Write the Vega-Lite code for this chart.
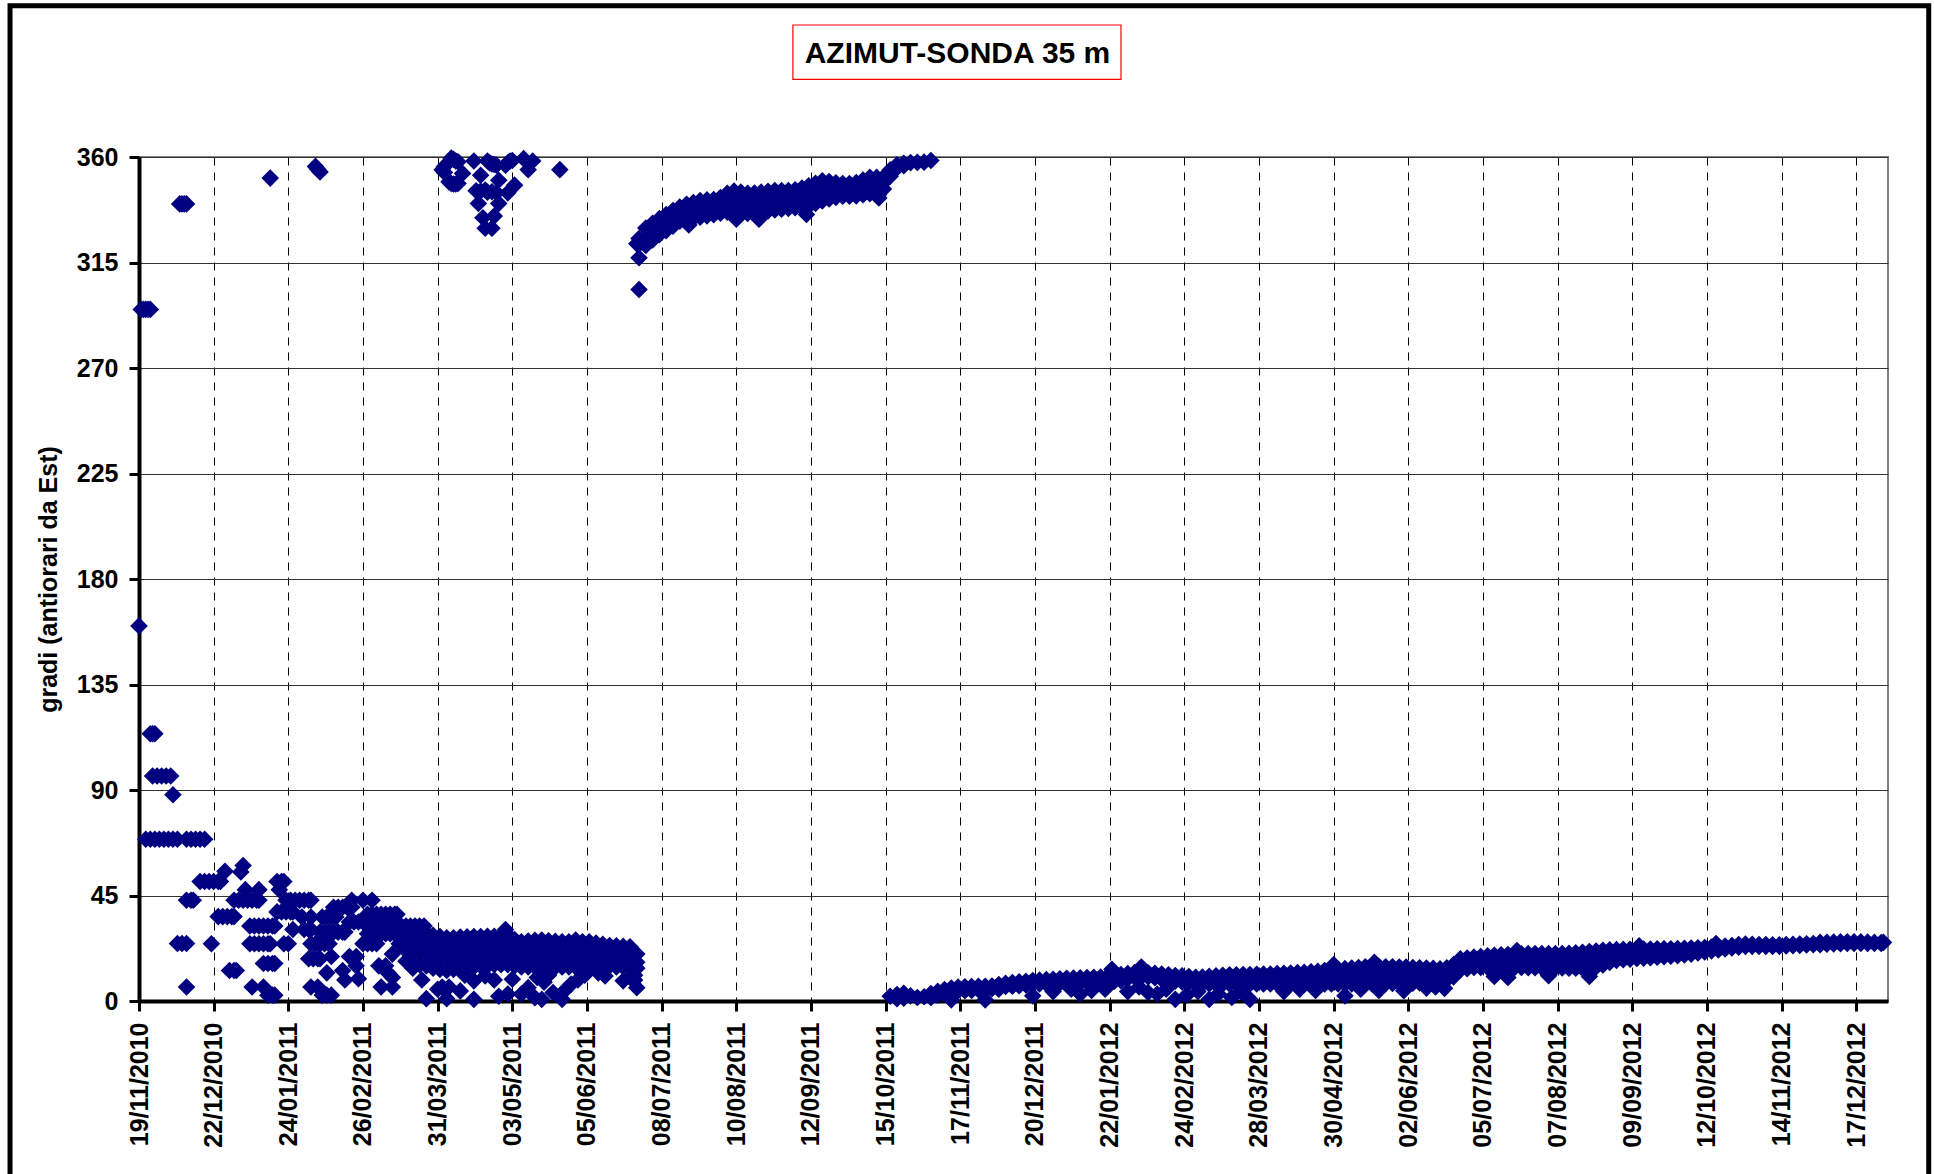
{
"$schema": "https://vega.github.io/schema/vega-lite/v6.json",
"width": 1749, "height": 844,
"autosize": {"type": "none"},
"padding": {"left": 139, "top": 157, "right": 46, "bottom": 173},
"background": "white",
"config": {
  "font": "Liberation Sans",
  "view": {"stroke": "#808080", "strokeWidth": 2},
  "axis": {"labelFont": "Liberation Sans", "titleFont": "Liberation Sans"}
},
"title": {"text": "AZIMUT-SONDA 35 m", "font": "Liberation Sans", "fontSize": 30, "fontWeight": "bold", "color": "black", "anchor": "middle", "frame": "group", "dx": -56, "offset": -66},
"layer": [
{
  "data": {"values": [{"k": 1}]},
  "mark": {"type": "rect", "fill": "white", "fillOpacity": 0, "stroke": "black", "strokeWidth": 5},
  "encoding": {
    "x": {"datum": {"year": 2010, "month": 9, "date": 23, "utc": true}, "type": "temporal"},
    "x2": {"datum": {"year": 2013, "month": 1, "date": 18, "utc": true}},
    "y": {"datum": 424.5, "type": "quantitative"},
    "y2": {"datum": -120}
  }
},
{
  "data": {"values": [{"k": 1}]},
  "mark": {"type": "rect", "fill": "white", "fillOpacity": 0, "stroke": "#ff0000", "strokeWidth": 1.2},
  "encoding": {
    "x": {"datum": {"year": 2011, "month": 9, "date": 4, "utc": true}, "type": "temporal"},
    "x2": {"datum": {"year": 2012, "month": 1, "date": 27, "utc": true}},
    "y": {"datum": 416.3, "type": "quantitative"},
    "y2": {"datum": 393.1}
  }
},
{
  "data": {"values": [
{"date":"2010-11-19","az":160},
{"date":"2010-11-20","az":295},{"date":"2010-11-21","az":295},{"date":"2010-11-22","az":295},{"date":"2010-11-23","az":295},{"date":"2010-11-24","az":295},
{"date":"2010-11-24","az":114},{"date":"2010-11-25","az":114},{"date":"2010-11-26","az":114},
{"date":"2010-11-25","az":96},{"date":"2010-11-27","az":96},{"date":"2010-11-29","az":96},{"date":"2010-12-01","az":96},{"date":"2010-12-03","az":96},
{"date":"2010-12-04","az":88},
{"date":"2010-11-22","az":69},{"date":"2010-11-24","az":69},{"date":"2010-11-26","az":69},{"date":"2010-11-28","az":69},{"date":"2010-11-30","az":69},{"date":"2010-12-02","az":69},{"date":"2010-12-04","az":69},{"date":"2010-12-06","az":69},{"date":"2010-12-10","az":69},{"date":"2010-12-12","az":69},{"date":"2010-12-14","az":69},{"date":"2010-12-16","az":69},{"date":"2010-12-18","az":69},
{"date":"2010-12-07","az":340},{"date":"2010-12-08","az":340},{"date":"2010-12-09","az":340},{"date":"2010-12-10","az":340},
{"date":"2010-12-06","az":24.5},{"date":"2010-12-08","az":24.5},{"date":"2010-12-10","az":24.5},
{"date":"2010-12-10","az":6},
{"date":"2010-12-10","az":43},{"date":"2010-12-12","az":43},{"date":"2010-12-13","az":43},
{"date":"2010-12-16","az":51},{"date":"2010-12-18","az":51},{"date":"2010-12-20","az":51},{"date":"2010-12-22","az":51},{"date":"2010-12-24","az":51},{"date":"2010-12-25","az":51},
{"date":"2010-12-27","az":55.3},{"date":"2011-01-04","az":57.8},{"date":"2011-01-03","az":55},
{"date":"2010-12-21","az":24.4},
{"date":"2010-12-31","az":43},{"date":"2011-01-02","az":43},{"date":"2011-01-04","az":43},{"date":"2011-01-06","az":43},{"date":"2011-01-08","az":43},{"date":"2011-01-10","az":43},{"date":"2011-01-11","az":43},
{"date":"2010-12-24","az":36},{"date":"2010-12-26","az":36},{"date":"2010-12-28","az":36},{"date":"2010-12-30","az":36},{"date":"2010-12-31","az":36},
{"date":"2010-12-29","az":13},{"date":"2010-12-31","az":13},{"date":"2011-01-01","az":13},
{"date":"2011-01-05","az":47.5},{"date":"2011-01-11","az":47.5},
{"date":"2011-01-07","az":24.4},{"date":"2011-01-09","az":24.4},{"date":"2011-01-11","az":24.4},{"date":"2011-01-13","az":24.4},{"date":"2011-01-15","az":24.4},{"date":"2011-01-16","az":24.4},
{"date":"2011-01-07","az":32},{"date":"2011-01-09","az":32},{"date":"2011-01-11","az":32},{"date":"2011-01-13","az":32},{"date":"2011-01-15","az":32},{"date":"2011-01-17","az":32},{"date":"2011-01-18","az":32},
{"date":"2011-01-13","az":16},{"date":"2011-01-15","az":16},{"date":"2011-01-17","az":16},{"date":"2011-01-18","az":16},
{"date":"2011-01-08","az":6},{"date":"2011-01-13","az":6},
{"date":"2011-01-15","az":2.5},{"date":"2011-01-17","az":2.5},{"date":"2011-01-18","az":2.5},
{"date":"2011-01-16","az":351},
{"date":"2011-01-19","az":51},{"date":"2011-01-21","az":51},{"date":"2011-01-22","az":51},{"date":"2011-01-20","az":47.5},
{"date":"2011-01-23","az":43},{"date":"2011-01-25","az":43},{"date":"2011-01-27","az":43},{"date":"2011-01-29","az":43},{"date":"2011-01-31","az":43},{"date":"2011-02-02","az":43},{"date":"2011-02-03","az":43},
{"date":"2011-01-19","az":38},{"date":"2011-01-21","az":38},{"date":"2011-01-23","az":38},{"date":"2011-01-25","az":38},{"date":"2011-01-26","az":38},
{"date":"2011-01-22","az":24.4},{"date":"2011-01-24","az":24.4},
{"date":"2011-01-26","az":30.5},{"date":"2011-01-31","az":30.5},{"date":"2011-02-02","az":30.5},{"date":"2011-02-03","az":30.5},
{"date":"2011-01-30","az":35.8},{"date":"2011-02-03","az":35.8},{"date":"2011-02-08","az":35.8},{"date":"2011-02-10","az":35.8},{"date":"2011-02-12","az":35.8},{"date":"2011-02-14","az":35.8},
{"date":"2011-02-05","az":356},{"date":"2011-02-06","az":354.8},{"date":"2011-02-07","az":353.6},
{"date":"2011-02-07","az":29.4},{"date":"2011-02-09","az":29.4},{"date":"2011-02-11","az":29.4},{"date":"2011-02-13","az":29.4},{"date":"2011-02-15","az":29.4},{"date":"2011-02-17","az":29.4},{"date":"2011-02-18","az":29.4},
{"date":"2011-02-13","az":40},{"date":"2011-02-15","az":40},{"date":"2011-02-17","az":40},{"date":"2011-02-19","az":40},{"date":"2011-02-21","az":40},
{"date":"2011-02-21","az":43},{"date":"2011-02-26","az":43},{"date":"2011-03-02","az":43},
{"date":"2011-02-03","az":24.4},{"date":"2011-02-05","az":24.4},{"date":"2011-02-07","az":24.4},{"date":"2011-02-09","az":24.4},{"date":"2011-02-11","az":24.4},
{"date":"2011-02-02","az":18},{"date":"2011-02-04","az":18},{"date":"2011-02-06","az":18},{"date":"2011-02-07","az":18},
{"date":"2011-02-10","az":12},{"date":"2011-02-12","az":19},
{"date":"2011-02-03","az":6},{"date":"2011-02-06","az":6},
{"date":"2011-02-08","az":2.5},{"date":"2011-02-10","az":2.5},{"date":"2011-02-12","az":2.5},
{"date":"2011-02-17","az":13},{"date":"2011-02-18","az":9},{"date":"2011-02-20","az":19},{"date":"2011-02-23","az":19},{"date":"2011-02-24","az":9.5},{"date":"2011-02-23","az":15},
{"date":"2011-02-28","az":37},{"date":"2011-03-02","az":37},{"date":"2011-03-04","az":37},{"date":"2011-03-06","az":37},{"date":"2011-03-08","az":37},{"date":"2011-03-10","az":37},{"date":"2011-03-12","az":37},{"date":"2011-03-13","az":37},
{"date":"2011-02-20","az":33.7},{"date":"2011-02-22","az":33.7},{"date":"2011-02-24","az":33.7},{"date":"2011-02-26","az":33.7},{"date":"2011-02-28","az":33.7},{"date":"2011-03-02","az":33.7},{"date":"2011-03-04","az":33.7},{"date":"2011-03-06","az":33.7},{"date":"2011-03-08","az":33.7},{"date":"2011-03-09","az":33.7},
{"date":"2011-03-11","az":32},{"date":"2011-03-13","az":32},{"date":"2011-03-15","az":32},{"date":"2011-03-17","az":32},{"date":"2011-03-19","az":32},{"date":"2011-03-21","az":32},{"date":"2011-03-23","az":32},{"date":"2011-03-25","az":32},
{"date":"2011-02-28","az":28.7},{"date":"2011-03-02","az":28.7},{"date":"2011-03-04","az":28.7},{"date":"2011-03-06","az":28.7},{"date":"2011-03-08","az":28.7},{"date":"2011-03-10","az":28.7},{"date":"2011-03-12","az":28.7},{"date":"2011-03-14","az":28.7},{"date":"2011-03-16","az":28.7},
{"date":"2011-02-26","az":24.4},{"date":"2011-02-28","az":24.4},{"date":"2011-03-02","az":24.4},{"date":"2011-03-04","az":24.4},{"date":"2011-03-14","az":24.4},
{"date":"2011-03-11","az":20},{"date":"2011-03-11","az":10},{"date":"2011-03-05","az":15},{"date":"2011-03-08","az":15},{"date":"2011-03-09","az":12},{"date":"2011-03-06","az":6},{"date":"2011-03-11","az":6},
{"date":"2011-03-17","az":30},{"date":"2011-03-17","az":26},{"date":"2011-03-17","az":21.5},{"date":"2011-03-17","az":17},
{"date":"2011-03-20","az":30},{"date":"2011-03-20","az":25.5},{"date":"2011-03-20","az":21},{"date":"2011-03-20","az":16},{"date":"2011-03-20","az":14},
{"date":"2011-03-23","az":29.5},{"date":"2011-03-23","az":25},{"date":"2011-03-23","az":20.5},{"date":"2011-03-23","az":15.5},
{"date":"2011-03-26","az":29},{"date":"2011-03-26","az":24.5},{"date":"2011-03-26","az":20},{"date":"2011-03-26","az":15},{"date":"2011-03-26","az":1},
{"date":"2011-03-29","az":28},{"date":"2011-03-29","az":23.5},{"date":"2011-03-29","az":19},{"date":"2011-03-29","az":14},
{"date":"2011-04-01","az":27.5},{"date":"2011-04-01","az":23},{"date":"2011-04-01","az":18.5},{"date":"2011-04-01","az":13.5},
{"date":"2011-04-04","az":27},{"date":"2011-04-04","az":22.5},{"date":"2011-04-04","az":18},{"date":"2011-04-04","az":13},{"date":"2011-04-04","az":1},
{"date":"2011-04-07","az":27},{"date":"2011-04-07","az":22.5},{"date":"2011-04-07","az":18},{"date":"2011-04-07","az":13.5},
{"date":"2011-04-10","az":27.3},{"date":"2011-04-10","az":23},{"date":"2011-04-10","az":18.5},{"date":"2011-04-10","az":14},{"date":"2011-04-10","az":4.3},
{"date":"2011-04-13","az":27.4},{"date":"2011-04-13","az":23},{"date":"2011-04-13","az":18.5},{"date":"2011-04-13","az":14},
{"date":"2011-04-16","az":27.5},{"date":"2011-04-16","az":23},{"date":"2011-04-16","az":18.5},{"date":"2011-04-16","az":14.5},{"date":"2011-04-16","az":8.6},{"date":"2011-04-16","az":0.7},
{"date":"2011-04-19","az":27.5},{"date":"2011-04-19","az":23},{"date":"2011-04-19","az":19},{"date":"2011-04-19","az":15},
{"date":"2011-04-22","az":27.6},{"date":"2011-04-22","az":23},{"date":"2011-04-22","az":19},{"date":"2011-04-22","az":15},
{"date":"2011-04-25","az":27.6},{"date":"2011-04-25","az":23.5},{"date":"2011-04-25","az":19.5},{"date":"2011-04-25","az":15.5},{"date":"2011-04-25","az":9},
{"date":"2011-04-28","az":27.7},{"date":"2011-04-28","az":23.5},{"date":"2011-04-28","az":19.5},{"date":"2011-04-28","az":15.5},
{"date":"2011-05-01","az":28.2},{"date":"2011-05-01","az":24},{"date":"2011-05-01","az":19.5},{"date":"2011-05-01","az":15.5},{"date":"2011-05-01","az":3},
{"date":"2011-05-04","az":26.2},{"date":"2011-05-04","az":22},{"date":"2011-05-04","az":18},{"date":"2011-05-04","az":15},
{"date":"2011-05-07","az":25.3},{"date":"2011-05-07","az":21},{"date":"2011-05-07","az":17.5},{"date":"2011-05-07","az":14.5},{"date":"2011-05-07","az":3},
{"date":"2011-05-10","az":25.6},{"date":"2011-05-10","az":21.5},{"date":"2011-05-10","az":17.5},{"date":"2011-05-10","az":14.5},{"date":"2011-05-10","az":5.7},
{"date":"2011-05-13","az":25.9},{"date":"2011-05-13","az":21.5},{"date":"2011-05-13","az":17.5},{"date":"2011-05-13","az":14.5},{"date":"2011-05-13","az":1.4},
{"date":"2011-05-16","az":26},{"date":"2011-05-16","az":21.5},{"date":"2011-05-16","az":17.5},{"date":"2011-05-16","az":14.5},{"date":"2011-05-16","az":0.7},
{"date":"2011-05-19","az":25.7},{"date":"2011-05-19","az":21.5},{"date":"2011-05-19","az":17.5},{"date":"2011-05-19","az":14.5},{"date":"2011-05-19","az":11},
{"date":"2011-05-22","az":25.5},{"date":"2011-05-22","az":21.5},{"date":"2011-05-22","az":17.5},{"date":"2011-05-22","az":14.5},
{"date":"2011-05-25","az":25.3},{"date":"2011-05-25","az":21},{"date":"2011-05-25","az":17},{"date":"2011-05-25","az":14.5},{"date":"2011-05-25","az":0.7},
{"date":"2011-05-28","az":25.3},{"date":"2011-05-28","az":21},{"date":"2011-05-28","az":17},{"date":"2011-05-28","az":14.5},
{"date":"2011-05-31","az":26},{"date":"2011-05-31","az":21.5},{"date":"2011-05-31","az":17.5},{"date":"2011-05-31","az":14.5},
{"date":"2011-06-03","az":25.3},{"date":"2011-06-03","az":21},{"date":"2011-06-03","az":17.5},{"date":"2011-06-03","az":15},
{"date":"2011-06-06","az":25.3},{"date":"2011-06-06","az":21},{"date":"2011-06-06","az":17.5},{"date":"2011-06-06","az":15.5},
{"date":"2011-06-09","az":24.7},{"date":"2011-06-09","az":20.5},{"date":"2011-06-09","az":17},{"date":"2011-06-09","az":15.5},
{"date":"2011-06-12","az":24.2},{"date":"2011-06-12","az":20.5},{"date":"2011-06-12","az":17},{"date":"2011-06-12","az":15.5},
{"date":"2011-06-15","az":23.7},{"date":"2011-06-15","az":20},{"date":"2011-06-15","az":17},{"date":"2011-06-15","az":15},
{"date":"2011-06-18","az":23.5},{"date":"2011-06-18","az":20},{"date":"2011-06-18","az":17},{"date":"2011-06-18","az":14.5},
{"date":"2011-06-21","az":23.3},{"date":"2011-06-21","az":19.5},{"date":"2011-06-21","az":16.5},{"date":"2011-06-21","az":14.5},{"date":"2011-06-21","az":8.6},
{"date":"2011-06-24","az":23.1},{"date":"2011-06-24","az":19.5},{"date":"2011-06-24","az":16.5},{"date":"2011-06-24","az":14.5},{"date":"2011-06-24","az":10},
{"date":"2011-06-27","az":20},{"date":"2011-06-27","az":16.5},{"date":"2011-06-27","az":14},{"date":"2011-06-27","az":5.7},
{"date":"2011-03-24","az":9},{"date":"2011-04-02","az":6},{"date":"2011-04-05","az":6},{"date":"2011-04-21","az":10.7},{"date":"2011-04-27","az":2},{"date":"2011-04-30","az":30.5},{"date":"2011-05-03","az":9.3},{"date":"2011-05-17","az":8},{"date":"2011-05-21","az":3.6},{"date":"2011-05-26","az":4.3},{"date":"2011-05-29","az":7.2},{"date":"2011-06-01","az":9},{"date":"2011-06-04","az":11},{"date":"2011-06-10","az":12},{"date":"2011-06-13","az":10.7},{"date":"2011-06-26","az":11},{"date":"2011-06-26","az":9},{"date":"2011-04-12","az":11},{"date":"2011-05-14","az":10},{"date":"2011-03-31","az":5},{"date":"2011-04-03","az":5},
{"date":"2011-04-02","az":354.6},{"date":"2011-04-03","az":353.4},{"date":"2011-04-03","az":356},{"date":"2011-04-06","az":359.5},{"date":"2011-04-07","az":359},{"date":"2011-04-08","az":358.3},{"date":"2011-04-09","az":358},{"date":"2011-04-11","az":353},
{"date":"2011-04-05","az":349.4},{"date":"2011-04-06","az":348.7},{"date":"2011-04-07","az":348.5},{"date":"2011-04-08","az":348.5},{"date":"2011-04-09","az":348.7},
{"date":"2011-04-16","az":358.3},{"date":"2011-04-19","az":352.2},{"date":"2011-04-18","az":340.2},
{"date":"2011-04-17","az":345.6},{"date":"2011-04-19","az":345.5},{"date":"2011-04-21","az":345.9},{"date":"2011-04-22","az":345},{"date":"2011-04-24","az":345.2},{"date":"2011-04-26","az":344.8},
{"date":"2011-04-20","az":334.1},{"date":"2011-04-25","az":334.8},{"date":"2011-04-21","az":329.6},{"date":"2011-04-24","az":329.6},
{"date":"2011-04-27","az":340.2},{"date":"2011-04-27","az":350.1},
{"date":"2011-04-22","az":358.3},{"date":"2011-04-23","az":357.5},{"date":"2011-04-24","az":357},{"date":"2011-04-25","az":356.8},{"date":"2011-04-26","az":356.5},
{"date":"2011-05-01","az":344.7},{"date":"2011-05-04","az":348},
{"date":"2011-04-30","az":356.5},{"date":"2011-05-01","az":357.5},{"date":"2011-05-02","az":358.3},{"date":"2011-05-03","az":358.5},
{"date":"2011-05-08","az":359.3},{"date":"2011-05-12","az":358.3},{"date":"2011-05-10","az":354.6},{"date":"2011-05-24","az":354.6},
{"date":"2011-06-27","az":323},
{"date":"2011-06-28","az":325.2},{"date":"2011-06-28","az":322.8},{"date":"2011-06-28","az":317},{"date":"2011-06-28","az":303.5},
{"date":"2011-07-01","az":329.7},{"date":"2011-07-01","az":325.5},{"date":"2011-07-01","az":322.3},
{"date":"2011-07-04","az":331.7},{"date":"2011-07-04","az":328},{"date":"2011-07-04","az":324.6},
{"date":"2011-07-07","az":333.7},{"date":"2011-07-07","az":330.3},{"date":"2011-07-07","az":326.9},
{"date":"2011-07-10","az":335.5},{"date":"2011-07-10","az":332},{"date":"2011-07-10","az":328.6},
{"date":"2011-07-13","az":337.2},{"date":"2011-07-13","az":333.8},{"date":"2011-07-13","az":330.5},
{"date":"2011-07-16","az":338.7},{"date":"2011-07-16","az":335.5},{"date":"2011-07-16","az":332.6},
{"date":"2011-07-19","az":339.8},{"date":"2011-07-19","az":336.5},{"date":"2011-07-19","az":333.6},
{"date":"2011-07-20","az":331},
{"date":"2011-07-22","az":340.6},{"date":"2011-07-22","az":337.2},{"date":"2011-07-22","az":333.9},
{"date":"2011-07-25","az":341.4},{"date":"2011-07-25","az":337.8},{"date":"2011-07-25","az":334.3},
{"date":"2011-07-28","az":341.7},{"date":"2011-07-28","az":338.3},{"date":"2011-07-28","az":334.9},
{"date":"2011-07-31","az":341.9},{"date":"2011-07-31","az":338.6},{"date":"2011-07-31","az":335.4},
{"date":"2011-08-03","az":342.7},{"date":"2011-08-03","az":339.3},{"date":"2011-08-03","az":336},
{"date":"2011-08-06","az":344.5},{"date":"2011-08-06","az":340.8},{"date":"2011-08-06","az":336.5},
{"date":"2011-08-09","az":345.5},{"date":"2011-08-09","az":341.5},{"date":"2011-08-09","az":336.7},
{"date":"2011-08-10","az":333.5},
{"date":"2011-08-12","az":345},{"date":"2011-08-12","az":341},{"date":"2011-08-12","az":336.3},
{"date":"2011-08-15","az":344.5},{"date":"2011-08-15","az":340.5},{"date":"2011-08-15","az":335.9},
{"date":"2011-08-18","az":344.6},{"date":"2011-08-18","az":340.7},{"date":"2011-08-18","az":336.1},
{"date":"2011-08-20","az":333.5},
{"date":"2011-08-21","az":345},{"date":"2011-08-21","az":341},{"date":"2011-08-21","az":336.6},
{"date":"2011-08-24","az":345.4},{"date":"2011-08-24","az":341.3},{"date":"2011-08-24","az":337},
{"date":"2011-08-27","az":345.7},{"date":"2011-08-27","az":341.6},{"date":"2011-08-27","az":337.4},
{"date":"2011-08-30","az":345.7},{"date":"2011-08-30","az":341.8},{"date":"2011-08-30","az":337.7},
{"date":"2011-09-02","az":345.7},{"date":"2011-09-02","az":342},{"date":"2011-09-02","az":338.1},
{"date":"2011-09-05","az":346},{"date":"2011-09-05","az":342.2},{"date":"2011-09-05","az":338.4},
{"date":"2011-09-08","az":346.8},{"date":"2011-09-08","az":342.8},{"date":"2011-09-08","az":338.7},
{"date":"2011-09-10","az":335.5},
{"date":"2011-09-11","az":347.7},{"date":"2011-09-11","az":343.4},{"date":"2011-09-11","az":339},
{"date":"2011-09-14","az":348.8},{"date":"2011-09-14","az":344.5},{"date":"2011-09-14","az":340.2},
{"date":"2011-09-17","az":349.9},{"date":"2011-09-17","az":345.6},{"date":"2011-09-17","az":341.3},
{"date":"2011-09-20","az":349.5},{"date":"2011-09-20","az":345.8},{"date":"2011-09-20","az":342.1},
{"date":"2011-09-23","az":349},{"date":"2011-09-23","az":345.9},{"date":"2011-09-23","az":342.8},
{"date":"2011-09-26","az":348.7},{"date":"2011-09-26","az":346},{"date":"2011-09-26","az":343.3},
{"date":"2011-09-29","az":348.7},{"date":"2011-09-29","az":346},{"date":"2011-09-29","az":343.3},
{"date":"2011-10-02","az":349.1},{"date":"2011-10-02","az":346.2},{"date":"2011-10-02","az":343.4},
{"date":"2011-10-05","az":350.2},{"date":"2011-10-05","az":347},{"date":"2011-10-05","az":343.9},
{"date":"2011-10-08","az":351.3},{"date":"2011-10-08","az":347.6},{"date":"2011-10-08","az":344.3},
{"date":"2011-10-11","az":351.3},{"date":"2011-10-11","az":348},{"date":"2011-10-11","az":345.3},{"date":"2011-10-12","az":342.5},
{"date":"2011-10-14","az":351.3},{"date":"2011-10-14","az":349},{"date":"2011-10-14","az":346.3},
{"date":"2011-10-17","az":354.5},{"date":"2011-10-17","az":351.8},
{"date":"2011-10-20","az":356.7},{"date":"2011-10-20","az":355.3},
{"date":"2011-10-23","az":357.3},{"date":"2011-10-23","az":356.3},
{"date":"2011-10-26","az":357.6},{"date":"2011-10-29","az":357.7},{"date":"2011-11-01","az":357.8},{"date":"2011-11-04","az":358.5},
{"date":"2011-10-17","az":2},
{"date":"2011-10-20","az":2.8},{"date":"2011-10-20","az":1},
{"date":"2011-10-23","az":3.3},{"date":"2011-10-23","az":1.2},
{"date":"2011-10-26","az":2.2},{"date":"2011-10-29","az":1.5},{"date":"2011-11-01","az":1.8},
{"date":"2011-11-04","az":3.2},{"date":"2011-11-04","az":1.5},
{"date":"2011-11-07","az":4.1},{"date":"2011-11-07","az":2.5},
{"date":"2011-11-10","az":4.9},{"date":"2011-11-10","az":3},
{"date":"2011-11-13","az":5.5},{"date":"2011-11-13","az":3.8},{"date":"2011-11-13","az":0.5},
{"date":"2011-11-16","az":5.9},{"date":"2011-11-16","az":4.3},
{"date":"2011-11-19","az":6.1},{"date":"2011-11-19","az":4.4},
{"date":"2011-11-22","az":6.2},{"date":"2011-11-22","az":4.5},
{"date":"2011-11-25","az":6.3},{"date":"2011-11-25","az":4.8},
{"date":"2011-11-28","az":6.3},{"date":"2011-11-28","az":4.5},{"date":"2011-11-28","az":0.5},
{"date":"2011-12-01","az":6.4},{"date":"2011-12-01","az":5.2},
{"date":"2011-12-04","az":7},{"date":"2011-12-04","az":5},
{"date":"2011-12-07","az":7.5},{"date":"2011-12-07","az":6.2},
{"date":"2011-12-10","az":7.9},{"date":"2011-12-10","az":6.3},
{"date":"2011-12-13","az":8.2},{"date":"2011-12-13","az":6.5},
{"date":"2011-12-16","az":8.4},{"date":"2011-12-16","az":6.8},
{"date":"2011-12-19","az":8.7},{"date":"2011-12-19","az":7.3},{"date":"2011-12-19","az":2.2},
{"date":"2011-12-22","az":8.9},{"date":"2011-12-22","az":7.3},
{"date":"2011-12-25","az":9.1},{"date":"2011-12-25","az":7.4},
{"date":"2011-12-28","az":9.3},{"date":"2011-12-28","az":7.5},
{"date":"2011-12-31","az":9.5},{"date":"2011-12-31","az":7.6},
{"date":"2012-01-03","az":9.7},{"date":"2012-01-03","az":7.6},
{"date":"2012-01-06","az":9.8},{"date":"2012-01-06","az":7.7},
{"date":"2012-01-09","az":9.9},{"date":"2012-01-09","az":7.8},{"date":"2012-01-09","az":3},
{"date":"2012-01-12","az":10},{"date":"2012-01-12","az":7.9},
{"date":"2012-01-15","az":10.1},{"date":"2012-01-15","az":8},
{"date":"2012-01-18","az":10.2},{"date":"2012-01-18","az":8},
{"date":"2012-01-21","az":10.4},{"date":"2012-01-21","az":8.1},
{"date":"2012-01-24","az":10.9},{"date":"2012-01-24","az":8.3},
{"date":"2012-01-27","az":11.3},{"date":"2012-01-27","az":8.7},
{"date":"2012-01-30","az":11.7},{"date":"2012-01-30","az":9.5},{"date":"2012-01-30","az":4},
{"date":"2012-02-02","az":12.1},{"date":"2012-02-02","az":10.2},
{"date":"2012-02-05","az":12.1},{"date":"2012-02-05","az":10.3},
{"date":"2012-02-08","az":12},{"date":"2012-02-08","az":10.3},{"date":"2012-02-08","az":3.6},
{"date":"2012-02-11","az":11.8},{"date":"2012-02-11","az":9.9},
{"date":"2012-02-14","az":11.5},{"date":"2012-02-14","az":9.3},
{"date":"2012-02-17","az":11.2},{"date":"2012-02-17","az":8.8},
{"date":"2012-02-20","az":10.9},{"date":"2012-02-20","az":8.4},{"date":"2012-02-20","az":0.7},
{"date":"2012-02-23","az":10.7},{"date":"2012-02-23","az":8.1},
{"date":"2012-02-26","az":10.4},{"date":"2012-02-26","az":7.8},
{"date":"2012-02-29","az":10.1},{"date":"2012-02-29","az":7.4},
{"date":"2012-03-03","az":10.2},{"date":"2012-03-03","az":7.3},
{"date":"2012-03-06","az":10.5},{"date":"2012-03-06","az":7.3},{"date":"2012-03-06","az":0.7},
{"date":"2012-03-09","az":10.7},{"date":"2012-03-09","az":7.3},
{"date":"2012-03-12","az":11},{"date":"2012-03-12","az":7.3},
{"date":"2012-03-15","az":11.2},{"date":"2012-03-15","az":7.3},
{"date":"2012-03-18","az":11.2},{"date":"2012-03-18","az":9.2},{"date":"2012-03-18","az":7.3},
{"date":"2012-03-21","az":11.3},{"date":"2012-03-21","az":7.3},
{"date":"2012-03-24","az":11.3},{"date":"2012-03-24","az":9.3},{"date":"2012-03-24","az":7.3},{"date":"2012-03-24","az":0.7},
{"date":"2012-03-27","az":11.4},{"date":"2012-03-27","az":7.3},
{"date":"2012-03-30","az":11.5},{"date":"2012-03-30","az":9.4},{"date":"2012-03-30","az":7.3},
{"date":"2012-04-02","az":11.5},{"date":"2012-04-02","az":7.3},
{"date":"2012-04-05","az":11.7},{"date":"2012-04-05","az":9.5},{"date":"2012-04-05","az":7.3},
{"date":"2012-04-08","az":11.8},{"date":"2012-04-08","az":7.3},
{"date":"2012-04-11","az":11.9},{"date":"2012-04-11","az":9.6},{"date":"2012-04-11","az":7.3},
{"date":"2012-04-14","az":12.1},{"date":"2012-04-14","az":7.3},
{"date":"2012-04-17","az":12.2},{"date":"2012-04-17","az":9.8},{"date":"2012-04-17","az":7.3},
{"date":"2012-04-20","az":12.5},{"date":"2012-04-20","az":9.9},{"date":"2012-04-20","az":7.3},
{"date":"2012-04-23","az":12.7},{"date":"2012-04-23","az":10},{"date":"2012-04-23","az":7.3},
{"date":"2012-04-26","az":13},{"date":"2012-04-26","az":10.2},{"date":"2012-04-26","az":7.3},
{"date":"2012-04-29","az":13.3},{"date":"2012-04-29","az":10.3},{"date":"2012-04-29","az":7.3},
{"date":"2012-05-02","az":13.5},{"date":"2012-05-02","az":10.4},{"date":"2012-05-02","az":7.3},
{"date":"2012-05-05","az":13.8},{"date":"2012-05-05","az":10.5},{"date":"2012-05-05","az":7.3},{"date":"2012-05-05","az":2.2},
{"date":"2012-05-08","az":14.1},{"date":"2012-05-08","az":10.7},{"date":"2012-05-08","az":7.3},
{"date":"2012-05-11","az":14.3},{"date":"2012-05-11","az":10.8},{"date":"2012-05-11","az":7.3},
{"date":"2012-05-14","az":14.6},{"date":"2012-05-14","az":11},{"date":"2012-05-14","az":7.3},
{"date":"2012-05-17","az":14.7},{"date":"2012-05-17","az":11},{"date":"2012-05-17","az":7.3},
{"date":"2012-05-20","az":14.7},{"date":"2012-05-20","az":11.1},{"date":"2012-05-20","az":7.5},
{"date":"2012-05-23","az":14.6},{"date":"2012-05-23","az":11},{"date":"2012-05-23","az":7.5},
{"date":"2012-05-26","az":14.6},{"date":"2012-05-26","az":11},{"date":"2012-05-26","az":7.5},
{"date":"2012-05-29","az":14.5},{"date":"2012-05-29","az":11},{"date":"2012-05-29","az":7.5},
{"date":"2012-05-31","az":4.4},
{"date":"2012-06-01","az":14.5},{"date":"2012-06-01","az":11},{"date":"2012-06-01","az":7.5},
{"date":"2012-06-04","az":14.3},{"date":"2012-06-04","az":11},{"date":"2012-06-04","az":7.6},
{"date":"2012-06-07","az":14.2},{"date":"2012-06-07","az":11},{"date":"2012-06-07","az":7.7},
{"date":"2012-06-10","az":14},{"date":"2012-06-10","az":11},{"date":"2012-06-10","az":7.9},
{"date":"2012-06-13","az":13.9},{"date":"2012-06-13","az":11},{"date":"2012-06-13","az":8.1},
{"date":"2012-06-16","az":13.7},{"date":"2012-06-16","az":11},{"date":"2012-06-16","az":8.3},
{"date":"2012-06-19","az":14.2},{"date":"2012-06-19","az":11.6},{"date":"2012-06-19","az":9.1},{"date":"2012-06-18","az":5.4},
{"date":"2012-06-22","az":15.5},{"date":"2012-06-22","az":12.9},{"date":"2012-06-22","az":10.3},
{"date":"2012-06-25","az":18},{"date":"2012-06-25","az":15.6},{"date":"2012-06-25","az":13.2},
{"date":"2012-06-28","az":18.3},{"date":"2012-06-28","az":16},{"date":"2012-06-28","az":13.8},
{"date":"2012-07-01","az":18.7},{"date":"2012-07-01","az":16.5},{"date":"2012-07-01","az":14.3},
{"date":"2012-07-04","az":19},{"date":"2012-07-04","az":16.6},{"date":"2012-07-04","az":14.3},
{"date":"2012-07-07","az":19.3},{"date":"2012-07-07","az":16.8},{"date":"2012-07-07","az":14.3},
{"date":"2012-07-10","az":19.5},{"date":"2012-07-10","az":16.9},{"date":"2012-07-10","az":14.3},{"date":"2012-07-10","az":10.5},
{"date":"2012-07-13","az":19.7},{"date":"2012-07-13","az":17},{"date":"2012-07-13","az":14.3},
{"date":"2012-07-16","az":19.8},{"date":"2012-07-16","az":17},{"date":"2012-07-16","az":14.3},{"date":"2012-07-16","az":10},
{"date":"2012-07-19","az":20},{"date":"2012-07-19","az":17.2},{"date":"2012-07-19","az":14.3},
{"date":"2012-07-22","az":20.1},{"date":"2012-07-22","az":17.2},{"date":"2012-07-22","az":14.3},
{"date":"2012-07-25","az":20.2},{"date":"2012-07-25","az":17.2},{"date":"2012-07-25","az":14.2},
{"date":"2012-07-28","az":20.2},{"date":"2012-07-28","az":17.2},{"date":"2012-07-28","az":14.2},
{"date":"2012-07-31","az":20.2},{"date":"2012-07-31","az":17.2},{"date":"2012-07-31","az":14.2},
{"date":"2012-08-03","az":20.2},{"date":"2012-08-03","az":17.2},{"date":"2012-08-03","az":14.2},{"date":"2012-08-03","az":10.8},
{"date":"2012-08-06","az":20.2},{"date":"2012-08-06","az":17.2},{"date":"2012-08-06","az":14.2},
{"date":"2012-08-09","az":20.2},{"date":"2012-08-09","az":17.2},{"date":"2012-08-09","az":14.1},
{"date":"2012-08-12","az":20.3},{"date":"2012-08-12","az":17.2},{"date":"2012-08-12","az":14},
{"date":"2012-08-15","az":20.6},{"date":"2012-08-15","az":17.3},{"date":"2012-08-15","az":14},
{"date":"2012-08-18","az":20.8},{"date":"2012-08-18","az":17.4},{"date":"2012-08-18","az":13.9},
{"date":"2012-08-21","az":21.1},{"date":"2012-08-21","az":17.5},{"date":"2012-08-21","az":13.9},{"date":"2012-08-21","az":10.5},
{"date":"2012-08-24","az":21.3},{"date":"2012-08-24","az":17.9},{"date":"2012-08-24","az":14.5},
{"date":"2012-08-27","az":21.6},{"date":"2012-08-27","az":18.5},{"date":"2012-08-27","az":15.4},
{"date":"2012-08-30","az":21.8},{"date":"2012-08-30","az":19.1},{"date":"2012-08-30","az":16.4},
{"date":"2012-09-02","az":21.9},{"date":"2012-09-02","az":19.6},{"date":"2012-09-02","az":17.3},
{"date":"2012-09-05","az":22},{"date":"2012-09-05","az":19.8},{"date":"2012-09-05","az":17.6},
{"date":"2012-09-08","az":22.1},{"date":"2012-09-08","az":20},{"date":"2012-09-08","az":17.8},
{"date":"2012-09-11","az":22.1},{"date":"2012-09-11","az":20.1},{"date":"2012-09-11","az":18.1},
{"date":"2012-09-14","az":22.2},{"date":"2012-09-14","az":20.2},{"date":"2012-09-14","az":18.3},
{"date":"2012-09-17","az":22.2},{"date":"2012-09-17","az":20.3},{"date":"2012-09-17","az":18.5},
{"date":"2012-09-20","az":22.3},{"date":"2012-09-20","az":20.5},{"date":"2012-09-20","az":18.7},
{"date":"2012-09-23","az":22.3},{"date":"2012-09-23","az":20.6},{"date":"2012-09-23","az":18.9},
{"date":"2012-09-26","az":22.3},{"date":"2012-09-26","az":20.7},{"date":"2012-09-26","az":19.1},
{"date":"2012-09-29","az":22.4},{"date":"2012-09-29","az":20.8},{"date":"2012-09-29","az":19.3},
{"date":"2012-10-02","az":22.5},{"date":"2012-10-02","az":21},{"date":"2012-10-02","az":19.6},
{"date":"2012-10-05","az":22.6},{"date":"2012-10-05","az":20},
{"date":"2012-10-08","az":22.7},{"date":"2012-10-08","az":20.5},
{"date":"2012-10-11","az":22.8},{"date":"2012-10-11","az":20.9},
{"date":"2012-10-14","az":23},{"date":"2012-10-14","az":21.4},
{"date":"2012-10-17","az":23.1},{"date":"2012-10-17","az":21.8},
{"date":"2012-10-20","az":23.4},{"date":"2012-10-20","az":22.2},
{"date":"2012-10-23","az":23.7},{"date":"2012-10-23","az":22.6},
{"date":"2012-10-26","az":24.1},{"date":"2012-10-26","az":23},
{"date":"2012-10-29","az":24.3},{"date":"2012-10-29","az":23.3},
{"date":"2012-11-01","az":24.2},{"date":"2012-11-01","az":23.3},
{"date":"2012-11-04","az":24.1},{"date":"2012-11-04","az":23.3},
{"date":"2012-11-07","az":24.1},{"date":"2012-11-07","az":23.3},
{"date":"2012-11-10","az":24},{"date":"2012-11-10","az":23.3},
{"date":"2012-11-13","az":24},{"date":"2012-11-13","az":23.3},
{"date":"2012-11-16","az":24.1},{"date":"2012-11-16","az":23.5},
{"date":"2012-11-19","az":24.2},{"date":"2012-11-19","az":23.6},
{"date":"2012-11-22","az":24.3},{"date":"2012-11-22","az":23.7},
{"date":"2012-11-25","az":24.4},{"date":"2012-11-25","az":23.9},
{"date":"2012-11-28","az":24.5},{"date":"2012-11-28","az":24},
{"date":"2012-12-01","az":25},{"date":"2012-12-01","az":24},
{"date":"2012-12-04","az":25},{"date":"2012-12-04","az":24.2},
{"date":"2012-12-07","az":25.1},{"date":"2012-12-07","az":24.3},
{"date":"2012-12-10","az":25.2},{"date":"2012-12-10","az":24.4},
{"date":"2012-12-13","az":25.2},{"date":"2012-12-13","az":24.5},
{"date":"2012-12-16","az":25.3},{"date":"2012-12-16","az":24.6},
{"date":"2012-12-19","az":25.2},{"date":"2012-12-19","az":24.6},
{"date":"2012-12-22","az":25.1},{"date":"2012-12-22","az":24.6},
{"date":"2012-12-25","az":25},{"date":"2012-12-25","az":24.6},
{"date":"2012-12-28","az":24.9},{"date":"2012-12-28","az":24.5},
{"date":"2012-12-29","az":25},
{"date":"2011-12-28","az":4},{"date":"2012-01-05","az":5},{"date":"2012-01-14","az":4.5},{"date":"2012-01-20","az":5},{"date":"2012-02-04","az":6},{"date":"2012-02-12","az":3},{"date":"2012-02-16","az":5},{"date":"2012-02-25","az":2.5},{"date":"2012-03-01","az":4},{"date":"2012-03-10","az":3},{"date":"2012-03-16","az":1.5},{"date":"2012-03-20","az":4},{"date":"2012-04-08","az":4},{"date":"2012-04-15","az":5},{"date":"2012-04-22","az":4.5},{"date":"2012-05-12","az":5},{"date":"2012-05-20","az":4.5},{"date":"2012-06-10","az":5.5},{"date":"2012-06-14","az":6},
{"date":"2012-01-23","az":13.5},{"date":"2012-02-05","az":14.5},{"date":"2012-04-30","az":15.5},{"date":"2012-05-18","az":16.5},{"date":"2012-07-20","az":21.5},{"date":"2012-09-12","az":23.5},{"date":"2012-10-16","az":24.5}
  ]},
  "mark": {"type": "point", "shape": "diamond", "filled": true, "color": "#000080", "opacity": 1, "size": 310},
  "encoding": {
    "x": {
      "field": "date", "type": "temporal",
      "scale": {"type": "utc", "domain": [{"year": 2010, "month": 11, "date": 19, "utc": true}, {"year": 2012, "month": 12, "date": 31, "utc": true}], "nice": false},
      "axis": {
        "title": null,
        "format": "%d/%m/%Y",
        "values": [
          {"year":2010,"month":11,"date":19,"utc":true},{"year":2010,"month":12,"date":22,"utc":true},
          {"year":2011,"month":1,"date":24,"utc":true},{"year":2011,"month":2,"date":26,"utc":true},
          {"year":2011,"month":3,"date":31,"utc":true},{"year":2011,"month":5,"date":3,"utc":true},
          {"year":2011,"month":6,"date":5,"utc":true},{"year":2011,"month":7,"date":8,"utc":true},
          {"year":2011,"month":8,"date":10,"utc":true},{"year":2011,"month":9,"date":12,"utc":true},
          {"year":2011,"month":10,"date":15,"utc":true},{"year":2011,"month":11,"date":17,"utc":true},
          {"year":2011,"month":12,"date":20,"utc":true},{"year":2012,"month":1,"date":22,"utc":true},
          {"year":2012,"month":2,"date":24,"utc":true},{"year":2012,"month":3,"date":28,"utc":true},
          {"year":2012,"month":4,"date":30,"utc":true},{"year":2012,"month":6,"date":2,"utc":true},
          {"year":2012,"month":7,"date":5,"utc":true},{"year":2012,"month":8,"date":7,"utc":true},
          {"year":2012,"month":9,"date":9,"utc":true},{"year":2012,"month":10,"date":12,"utc":true},
          {"year":2012,"month":11,"date":14,"utc":true},{"year":2012,"month":12,"date":17,"utc":true}
        ],
        "labelAngle": 270, "labelAlign": "right", "labelBaseline": "middle",
        "labelFontSize": 25, "labelFontWeight": "bold", "labelColor": "black",
        "labelPadding": 11, "labelOverlap": false, "labelFlush": false, "labelBound": false,
        "domainColor": "black", "domainWidth": 4,
        "tickColor": "black", "tickWidth": 3, "tickSize": 10,
        "grid": true, "gridColor": "black", "gridWidth": 1, "gridDash": [8, 7]
      }
    },
    "y": {
      "field": "az", "type": "quantitative",
      "scale": {"domain": [0, 360], "nice": false, "zero": true},
      "axis": {
        "title": "gradi (antiorari da Est)",
        "titleFontSize": 25, "titleFontWeight": "bold", "titleColor": "black", "titlePadding": 15,
        "values": [0, 45, 90, 135, 180, 225, 270, 315, 360],
        "labelFontSize": 25, "labelFontWeight": "bold", "labelColor": "black",
        "labelPadding": 11, "labelFlush": false, "labelOverlap": false,
        "domainColor": "black", "domainWidth": 4,
        "tickColor": "black", "tickWidth": 3, "tickSize": 10,
        "grid": true, "gridColor": "#333333", "gridWidth": 1.2
      }
    }
  }
}
]
}
